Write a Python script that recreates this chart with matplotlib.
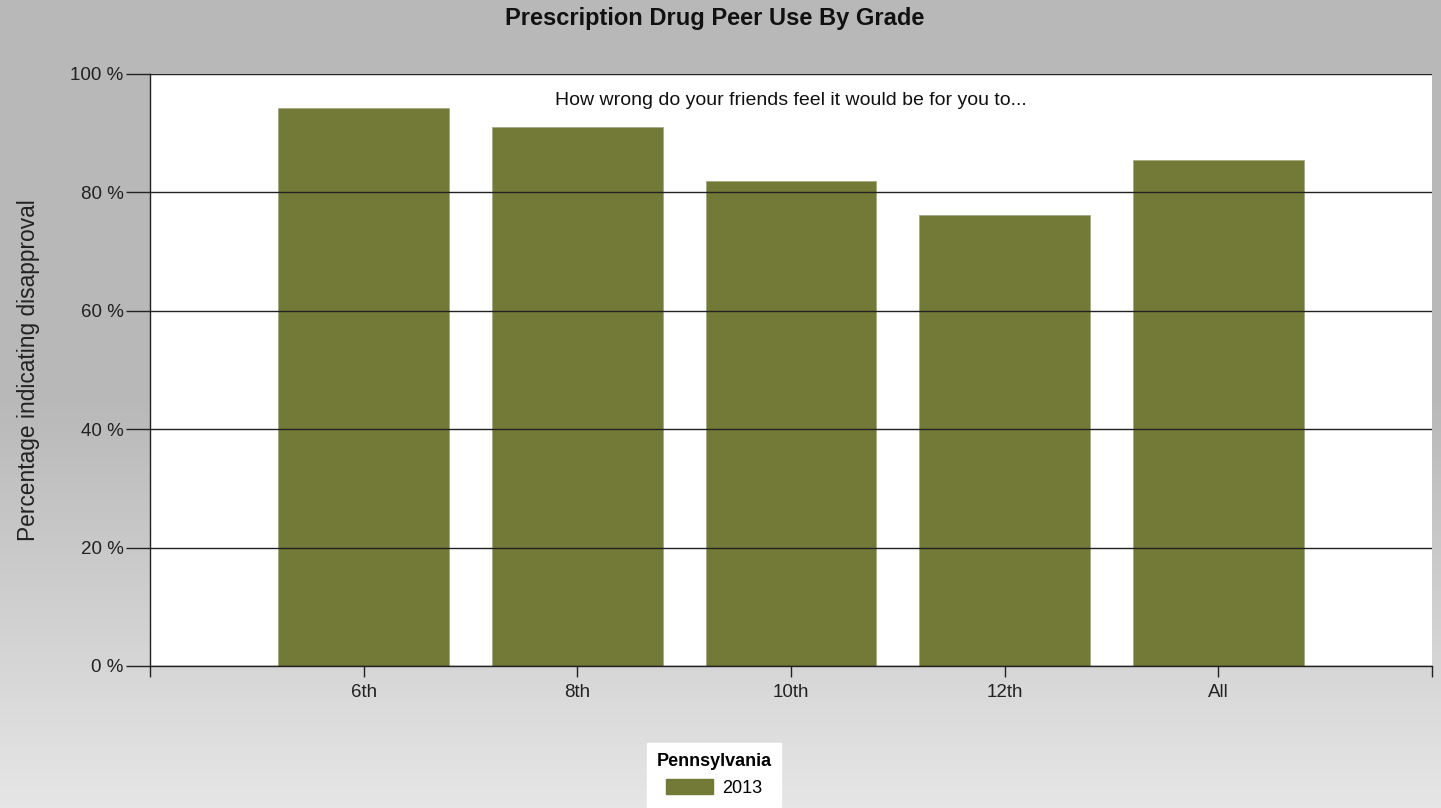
import matplotlib
matplotlib.use("Agg")
import matplotlib.pyplot as plt
import numpy as np
from matplotlib.ticker import FuncFormatter
from matplotlib.colors import LinearSegmentedColormap

# disapproval shares by grade (percent)
grades = ["6th", "8th", "10th", "12th", "All"]
disapproval = [94.3, 91.0, 81.9, 76.2, 85.5]
series_name = "2013"
legend_title = "Pennsylvania"

bar_color = "#737936"

plt.rcParams['font.family'] = ['Liberation Sans', 'DejaVu Sans']

fig = plt.figure(figsize=(14.41, 8.08), dpi=100)

# grey vertical gradient behind everything
bg = fig.add_axes([0, 0, 1, 1], zorder=-10)
grad = np.linspace(0, 1, 256).reshape(-1, 1)
grey_cmap = LinearSegmentedColormap.from_list("bg", ["#b8b8b8", "#b9b9b9", "#e6e6e6"])
bg.imshow(grad, aspect="auto", cmap=grey_cmap, extent=[0, 1, 0, 1], origin="upper")
bg.set_axis_off()

W, H = 1441, 808
ax = fig.add_axes([150 / W, 1 - 666 / H, (1432 - 150) / W, (666 - 74) / H])
ax.set_facecolor("white")

x = np.arange(len(grades))
ax.bar(x, disapproval, width=0.8, color=bar_color, edgecolor="#a6aa80",
       linewidth=0.6, zorder=2)

ax.set_xlim(-1, len(grades))
ax.set_ylim(0, 100)
ax.set_yticks([0, 20, 40, 60, 80, 100])
ax.yaxis.set_major_formatter(FuncFormatter(lambda v, p: f"{v:.0f} %"))
ax.set_xticks(list(x) + [-1, len(grades)])
ax.set_xticklabels(grades + ["", ""])

ax.grid(axis="y", color="#222222", linewidth=1.0, zorder=3)
ax.set_axisbelow(False)

for side in ["top", "right"]:
    ax.spines[side].set_visible(False)
for side in ["left", "bottom"]:
    ax.spines[side].set_color("#222222")
    ax.spines[side].set_linewidth(1.0)

ax.tick_params(axis="y", length=17, width=1.0, color="#222222",
               labelsize=13.5, labelcolor="#222222", pad=2)
ax.tick_params(axis="x", length=8, width=1.0, color="#222222",
               labelsize=13.5, labelcolor="#222222", pad=5)

ax.set_ylabel("Percentage indicating disapproval", fontsize=16.4,
              color="#222222", labelpad=22)

fig.text(715 / W, 1 - 18 / H, "Prescription Drug Peer Use By Grade",
         ha="center", va="center", fontsize=17, fontweight="bold",
         color="#111111")
ax.text(0.5, 0.955, "How wrong do your friends feel it would be for you to...",
        transform=ax.transAxes, ha="center", va="center", fontsize=14,
        color="#111111", zorder=5)

leg = fig.legend(handles=[plt.Rectangle((0, 0), 1, 1, color=bar_color)],
                 labels=[series_name], title=legend_title,
                 loc="upper center", bbox_to_anchor=(714 / W, 1 - 743 / H),
                 frameon=True, fancybox=False, edgecolor="white",
                 facecolor="white", framealpha=1, fontsize=13,
                 title_fontproperties={"weight": "bold", "size": 13},
                 handlelength=2.6, handleheight=0.9, handletextpad=0.5,
                 borderpad=0.55, borderaxespad=0)

fig.savefig("out.png", dpi=100)
